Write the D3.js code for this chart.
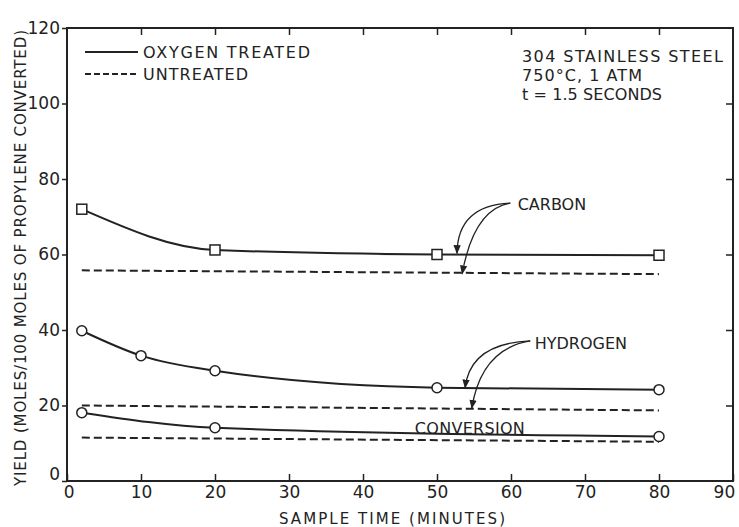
<!DOCTYPE html>
<html>
<head>
<meta charset="utf-8">
<script src="https://cdn.jsdelivr.net/npm/d3@7"></script>
<style>
  body { margin: 0; background: #fff; }
  text { font-family: "DejaVu Sans", sans-serif; fill: #222; }
</style>
</head>
<body>
<script>
// sample times (minutes) and yields
const carbonTime = [2, 20, 50, 80];
const carbonTreated = [72, 61.2, 60, 59.8];
const carbonUntreated = [55.8, 54.8];

const hydrogenTime = [2, 10, 20, 50, 80];
const hydrogenTreated = [39.8, 33.2, 29.2, 24.7, 24.2];
const hydrogenUntreated = [20, 18.7];

const conversionTime = [2, 20, 80];
const conversionTreated = [18.1, 14.1, 11.8];
const conversionUntreated = [11.5, 10.4];

const untreatedTime = [2, 80];

const xTicks = [0, 10, 20, 30, 40, 50, 60, 70, 80, 90];
const yTicks = [0, 20, 40, 60, 80, 100, 120];

const W = 739, H = 527;
const ink = '#222';

const svg = d3.select('body').append('svg')
    .attr('width', W)
    .attr('height', H);

const x = d3.scaleLinear().domain([0, 90]).range([67, 733]);
const y = d3.scaleLinear().domain([0, 120]).range([481, 28]);

// frame
svg.append('rect')
    .attr('x', x(0)).attr('y', y(120))
    .attr('width', x(90) - x(0)).attr('height', y(0) - y(120))
    .attr('fill', 'none').attr('stroke', ink).attr('stroke-width', 2);

// axes
const left = svg.append('g')
    .attr('transform', `translate(${x(0)},0)`)
    .call(d3.axisLeft(y).tickValues(yTicks).tickSize(5).tickPadding(2));
const bottom = svg.append('g')
    .attr('transform', `translate(0,${y(0)})`)
    .call(d3.axisBottom(x).tickValues(xTicks).tickSize(-7).tickPadding(5));
svg.append('g')
    .attr('transform', `translate(0,${y(120)})`)
    .call(d3.axisTop(x).tickValues(xTicks.slice(1, -1)).tickSize(-7).tickFormat(''));
svg.append('g')
    .attr('transform', `translate(${x(90)},0)`)
    .call(d3.axisRight(y).tickValues(yTicks.slice(1, -1)).tickSize(-7).tickFormat(''));

svg.selectAll('.domain').remove();
svg.selectAll('.tick line').attr('stroke', ink).attr('stroke-width', 1.5);
svg.selectAll('.tick text')
    .style('font-family', '"DejaVu Sans", sans-serif')
    .style('font-size', '17px')
    .attr('fill', ink);
left.selectAll('.tick text').filter(d => d === 0).attr('dy', '-0.1em');
bottom.selectAll('.tick text').filter(d => d === 0).attr('dx', '0.1em');
bottom.selectAll('.tick text').filter(d => d === 90).attr('text-anchor', 'end').attr('dx', '0.1em');

// axis titles
svg.append('text')
    .attr('x', 392).attr('y', 524)
    .attr('text-anchor', 'middle')
    .attr('textLength', 226)
    .style('font-size', '15px')
    .text('SAMPLE TIME (MINUTES)');

svg.append('text')
    .attr('transform', 'translate(26,258) rotate(-90)')
    .attr('text-anchor', 'middle')
    .attr('textLength', 456)
    .style('font-size', '15px')
    .text('YIELD (MOLES/100 MOLES OF PROPYLENE CONVERTED)');

// lines
const smooth = d3.line().x(d => x(d[0])).y(d => y(d[1])).curve(d3.curveMonotoneX);
const straight = d3.line().x(d => x(d[0])).y(d => y(d[1]));

function treated(times, vals) {
    svg.append('path')
        .datum(d3.zip(times, vals))
        .attr('d', smooth)
        .attr('fill', 'none').attr('stroke', ink).attr('stroke-width', 2);
}
function untreated(vals) {
    svg.append('path')
        .datum(d3.zip(untreatedTime, vals))
        .attr('d', straight)
        .attr('fill', 'none').attr('stroke', ink).attr('stroke-width', 2)
        .attr('stroke-dasharray', '8,4');
}

treated(carbonTime, carbonTreated);
treated(hydrogenTime, hydrogenTreated);
treated(conversionTime, conversionTreated);
untreated(carbonUntreated);
untreated(hydrogenUntreated);
untreated(conversionUntreated);

// markers
svg.selectAll('.sq')
    .data(d3.zip(carbonTime, carbonTreated))
    .enter().append('rect')
    .attr('x', d => x(d[0]) - 5).attr('y', d => y(d[1]) - 5)
    .attr('width', 10).attr('height', 10)
    .attr('fill', '#fff').attr('stroke', ink).attr('stroke-width', 1.5);

svg.selectAll('.circ')
    .data(d3.zip(hydrogenTime, hydrogenTreated).concat(d3.zip(conversionTime, conversionTreated)))
    .enter().append('circle')
    .attr('cx', d => x(d[0])).attr('cy', d => y(d[1]))
    .attr('r', 5)
    .attr('fill', '#fff').attr('stroke', ink).attr('stroke-width', 1.5);

// legend
svg.append('line').attr('x1', 85).attr('x2', 138).attr('y1', 52).attr('y2', 52)
    .attr('stroke', ink).attr('stroke-width', 2);
svg.append('line').attr('x1', 85).attr('x2', 138).attr('y1', 74).attr('y2', 74)
    .attr('stroke', ink).attr('stroke-width', 2).attr('stroke-dasharray', '6,3');
svg.append('text').attr('x', 143).attr('y', 58).attr('textLength', 167)
    .style('font-size', '16px').text('OXYGEN TREATED');
svg.append('text').attr('x', 143).attr('y', 80).attr('textLength', 105)
    .style('font-size', '16px').text('UNTREATED');

// conditions
const notes = ['304 STAINLESS STEEL', '750°C, 1 ATM', 't = 1.5 SECONDS'];
const noteLen = [201, 120, 140];
svg.selectAll('.note').data(notes).enter().append('text')
    .attr('x', 522).attr('y', (d, i) => 62 + i * 19)
    .attr('textLength', (d, i) => noteLen[i])
    .style('font-size', '16px')
    .text(d => d);

// curve labels with arrows
svg.append('defs').append('marker')
    .attr('id', 'head').attr('viewBox', '0 0 10 10')
    .attr('refX', 9).attr('refY', 5)
    .attr('markerWidth', 7).attr('markerHeight', 7)
    .attr('orient', 'auto')
    .append('path').attr('d', 'M0,1L10,5L0,9Z').attr('fill', ink);

function arrow(x0, y0, cx, cy, x1, y1) {
    svg.append('path')
        .attr('d', `M${x(x0)},${y(y0)}Q${x(cx)},${y(cy)} ${x(x1)},${y(y1)}`)
        .attr('fill', 'none').attr('stroke', ink).attr('stroke-width', 1.3)
        .attr('marker-end', 'url(#head)');
}

svg.append('text').attr('x', x(60.9)).attr('y', y(73.4) + 6)
    .style('font-size', '16px').text('CARBON');
arrow(59.9, 73.6, 52.8, 73, 52.7, 60.3);
arrow(59.9, 73.6, 55, 72, 53.4, 54.9);

svg.append('text').attr('x', x(63.2)).attr('y', y(36.6) + 6)
    .style('font-size', '16px').text('HYDROGEN');
arrow(62.6, 37.1, 54.5, 36.5, 53.8, 24.7);
arrow(62.6, 37.1, 56, 35, 54.7, 19.3);

svg.append('text').attr('x', x(47)).attr('y', y(14) + 6)
    .attr('textLength', 110)
    .style('font-size', '16px').text('CONVERSION');
</script>
</body>
</html>
